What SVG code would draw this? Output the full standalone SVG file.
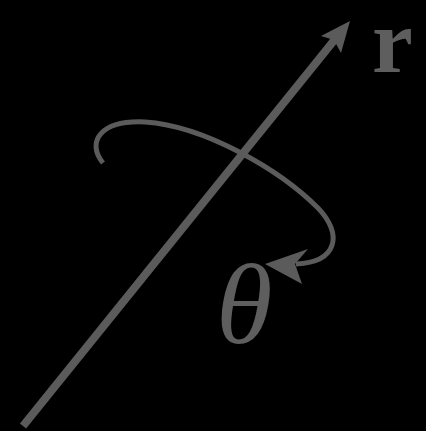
<svg xmlns="http://www.w3.org/2000/svg" width="426" height="431" viewBox="0 0 426 431">
<style>
.ln{fill:none;stroke:#5b5b5b;stroke-linecap:butt}
.hd{fill:#5b5b5b}
.lb{fill:#5e5e5e}
</style>
<rect width="426" height="431" fill="#000"/>
<g id="connectors">
<g id="axis">
<path class="ln" d="M23,426 L336,38" stroke-width="8"/>
<polygon class="hd" points="350,21 341,53 334,40 321,36"/>
</g>
<g id="rotation">
<path class="ln" d="M103,163 C86,142 100,120 145,122 C205,126 280,170 318,208 C343,234 338,262 296,264" stroke-width="5"/>
<polygon class="hd" points="265,264 308,249 295,264 302,284"/>
</g>
</g>
<g id="label-r"><text class="lb" x="372" y="72" font-family="Liberation Serif, serif" font-weight="bold" font-size="92">r</text></g>
<g id="label-theta"><text class="lb" x="216" y="343" font-family="Liberation Serif, serif" font-style="italic" font-size="115">θ</text></g>
</svg>
